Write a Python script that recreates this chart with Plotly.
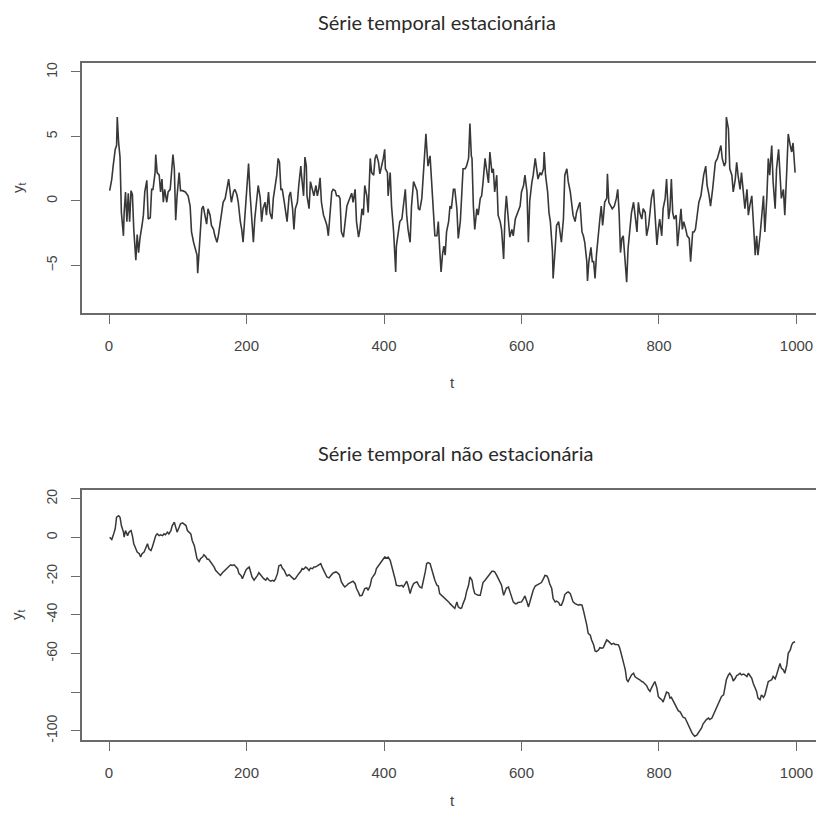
import plotly.graph_objects as go

# ---- Data: stationary series ----
t_stat = [1,4,6,9,11,12,14,15,16,18,21,22,24,26,28,30,32,34,36,39,41,43,45,48,50,52,55,57,60,62,64,67,68,70,73,75,77,79,81,84,86,89,91,93,95,97,99,102,104,107,111,115,118,120,123,125,128,129,131,133,135,137,140,142,144,147,149,152,154,157,159,161,164,166,169,171,174,176,178,181,183,186,188,191,193,195,198,200,203,205,208,210,212,215,217,220,222,224,227,229,232,234,237,239,241,244,246,248,250,252,255,257,259,262,264,267,269,271,274,276,279,280,283,285,287,288,291,293,296,298,301,303,305,307,309,312,314,317,319,321,324,326,329,331,334,336,
          338,341,343,346,348,351,353,355,358,360,363,365,368,370,372,375,377,380,382,385,387,389,392,394,397,399,401,402,405,406,409,411,414,416,417,418,421,423,426,428,431,433,435,438,440,443,445,448,450,452,455,457,459,461,462,464,467,469,472,474,477,479,481,483,485,487,489,491,494,496,498,501,503,506,508,511,513,515,518,520,523,525,527,528,530,532,535,537,540,542,544,547,549,552,554,557,559,561,564,566,569,571,574,576,578,581,583,586,588,591,593,595,598,600,603,605,608,610,612,615,617,620,622,624,627,629,632,633,635,638,640,642,645,646,649,651,654,656,658,661,663,666,668,671,673,675,678,680,683,685,
          688,690,692,695,696,698,701,703,705,707,709,712,714,716,718,719,721,724,725,727,730,732,735,738,740,742,744,746,748,751,753,755,758,760,763,765,768,770,772,775,777,780,782,785,787,789,792,794,797,799,801,804,806,809,811,814,816,818,820,822,825,827,830,832,834,836,839,841,844,846,849,851,853,856,858,861,863,865,868,870,873,875,878,880,882,885,887,890,892,895,897,898,901,903,906,908,911,913,915,918,920,923,925,928,930,932,935,937,940,942,944,947,949,952,954,957,959,961,964,966,969,971,974,976,978,981,983,986,988,991,993,995,998]
y_stat = [0.8,1.7,2.7,4.0,4.3,6.5,4.5,3.5,3.4,-0.9,-2.7,-0.9,0.7,-1.6,0.6,-1.6,0.8,0.5,-2.2,-4.6,-2.6,-4.0,-2.9,-1.9,-1.1,0.7,1.6,-1.4,-1.3,0.9,0.9,2.2,3.6,2.2,2.0,0.7,1.7,-0.1,0.9,-0.1,0.7,0.9,2.7,3.6,2.5,-1.5,0.4,2.2,0.8,0.8,0.7,0.4,-0.4,-2.4,-3.2,-3.6,-4.2,-5.6,-4.1,-2.7,-0.6,-0.4,-1.4,-1.8,-0.6,-1.1,-1.9,-2.2,-2.7,-3.2,-2.7,-1.9,-0.6,-0.1,0.2,0.7,1.7,0.8,-0.1,0.7,0.9,0.5,-0.1,-1.6,-2.2,-3.2,-0.9,1.2,2.9,0.7,-1.4,-3.2,-1.4,0.2,1.2,0.2,-1.6,-0.6,-0.1,-1.1,0.7,-0.9,-1.4,0.2,0.9,2.0,3.3,3.0,0.9,0.9,-0.1,-0.9,-1.6,0.4,0.7,-0.6,-2.2,-0.6,-0.1,1.2,2.7,2.0,0.4,3.4,2.7,0.4,-0.6,1.5,0.9,0.4,1.2,0.4,0.9,1.8,-0.1,-1.1,-1.4,-1.9,-2.7,-1.1,0.7,0.9,0.8,0.4,0.4,0.2,
          -2.4,-2.8,-1.9,-0.4,-0.1,0.4,0.6,-0.1,0.9,-1.6,-2.8,-2.2,-0.6,-1.1,1.2,0.4,-0.9,3.3,2.2,2.0,3.3,3.6,3.0,2.1,2.7,3.3,4.0,2.5,2.2,0.4,2.2,-0.4,-2.4,-4.2,-5.5,-3.5,-2.2,-1.6,-1.4,-0.6,0.9,-1.1,-2.2,-3.2,-0.4,1.5,1.2,0.8,-0.6,-0.7,0.2,2.2,4.0,5.2,4.3,2.7,3.5,1.4,-0.6,-2.7,-2.7,-1.6,-3.7,-5.5,-4.2,-3.5,-4.2,-2.4,-1.6,-0.4,-0.6,0.9,0.9,-0.6,-2.9,-1.6,0.4,2.5,2.5,2.7,3.3,6.0,3.5,3.3,-0.4,-2.2,-0.6,-1.1,0.2,0.4,1.4,3.3,2.5,1.4,3.8,2.2,2.5,0.7,2.0,-1.1,-1.6,-2.2,-4.5,-1.1,0.4,-1.6,-2.8,-2.2,-2.7,-1.4,-1.1,-0.9,-0.4,0.7,1.2,2.0,0.7,-3.2,0.0,1.4,2.0,3.3,2.5,1.7,2.2,2.0,2.5,3.8,2.0,0.7,-0.9,-1.6,-3.9,-6.0,-3.7,-1.9,-1.6,-2.4,-3.2,-1.4,2.0,2.5,1.5,0.7,-0.1,-1.1,-1.6,-0.9,-0.4,-0.1,
          -2.4,-2.7,-3.2,-4.7,-6.2,-4.7,-3.6,-4.7,-4.7,-6.0,-4.2,-2.2,-1.4,-0.4,-1.9,-1.4,-0.1,0.2,2.1,-0.1,-0.4,-0.6,-0.4,0.2,0.9,-0.9,-4.0,-2.9,-2.7,-4.7,-6.3,-3.7,-2.2,-0.9,-0.1,-1.1,-2.4,-0.1,-0.9,-1.4,-0.6,-0.9,-2.7,-1.9,-0.6,0.2,0.9,-0.9,-3.4,-2.2,-1.4,-2.7,-0.6,0.2,1.7,-1.4,-0.6,1.7,-0.9,-1.4,-1.1,-3.5,-1.9,-0.6,-2.2,-1.6,-2.2,-2.7,-2.9,-4.7,-2.4,-2.4,-2.2,-0.6,-0.1,0.4,1.2,2.0,2.7,1.2,0.4,-0.4,0.9,2.2,3.0,3.3,3.8,4.3,3.3,2.7,3.0,6.5,5.6,2.5,2.0,0.7,1.7,3.0,2.0,0.9,2.2,0.2,-0.6,0.9,-1.1,-0.4,0.4,-1.4,-4.2,-2.7,-4.2,-2.7,-1.4,0.4,-2.4,0.4,3.3,2.0,4.3,1.5,-0.6,2.5,4.0,1.7,0.2,0.9,-1.1,2.5,5.2,4.3,3.8,4.5,2.2]

# ---- Data: non-stationary series ----
t_walk = [1,4,6,9,11,14,16,18,21,22,24,27,29,32,34,36,39,41,44,46,48,51,53,56,58,61,63,65,68,70,73,75,78,80,82,85,87,90,92,95,97,99,102,104,107,109,112,114,116,119,121,124,126,128,131,133,136,138,141,143,145,148,150,153,155,158,160,162,165,167,170,172,175,177,179,182,184,187,189,192,194,196,199,201,204,206,208,211,213,216,218,220,223,225,228,230,233,235,238,240,242,245,247,250,252,255,257,259,262,264,267,269,271,274,276,279,281,283,286,288,291,293,296,298,300,303,305,308,310,313,315,317,320,322,325,327,330,332,335,336,
          338,341,343,346,348,351,353,355,358,360,363,365,368,370,372,375,377,380,382,385,387,389,392,394,397,399,401,404,406,409,411,414,416,418,421,423,426,428,431,433,435,438,440,443,445,448,450,452,455,457,460,462,464,467,469,472,474,477,479,481,484,486,489,491,494,496,498,501,503,506,508,511,513,515,518,520,523,525,528,530,532,535,537,540,542,544,547,549,552,554,557,559,561,564,566,569,571,574,576,578,581,583,586,588,591,593,595,598,600,603,605,608,610,612,615,617,620,622,624,627,629,632,634,637,639,641,644,646,649,651,654,656,658,661,663,666,668,671,673,675,678,680,683,685,
          688,690,692,695,697,700,702,705,707,709,712,714,717,719,721,724,726,729,731,734,736,738,741,743,746,748,751,753,755,758,760,763,765,768,770,772,775,777,780,782,785,787,789,792,794,797,799,801,804,806,809,811,814,816,818,821,823,826,828,831,833,835,838,840,843,845,848,850,852,855,857,860,862,864,867,869,872,874,877,879,881,884,886,889,891,894,896,898,901,903,906,908,911,913,915,918,920,923,925,928,930,932,935,937,940,942,944,947,949,952,954,957,959,961,964,966,969,971,974,976,978,981,983,986,988,991,993,995,998]
y_walk = [0.2,-1.0,1.0,4.5,10.5,11.3,10.5,6.2,2.8,0.2,3.6,1.0,2.8,3.6,1.0,-3.2,-5.8,-7.5,-8.4,-10.1,-8.4,-7.5,-5.8,-3.2,-5.8,-6.7,-4.9,-2.4,1.0,1.9,1.0,1.4,1.0,1.9,1.4,2.8,1.9,3.6,6.2,7.9,5.3,2.8,5.3,7.1,7.6,7.1,6.2,3.6,3.1,1.9,-1.5,-4.1,-7.5,-11.0,-12.4,-11.0,-10.1,-8.9,-10.1,-11.3,-11.3,-12.7,-14.1,-15.3,-17.0,-18.2,-19.2,-19.6,-18.2,-17.5,-16.1,-15.3,-14.7,-14.1,-14.4,-14.1,-14.7,-16.1,-18.7,-19.6,-21.3,-19.2,-17.0,-16.1,-15.3,-17.8,-20.4,-22.1,-21.3,-19.6,-18.2,-19.2,-20.4,-21.3,-22.1,-20.9,-22.1,-22.6,-22.1,-22.6,-21.6,-18.7,-14.7,-14.1,-15.8,-17.0,-18.7,-19.9,-19.2,-19.9,-20.9,-21.6,-21.3,-19.6,-18.7,-17.5,-16.1,-16.5,-15.3,-15.8,-17.0,-15.8,-16.1,-15.3,-15.3,-14.7,-14.1,-13.5,-15.3,-17.5,-19.2,-20.4,-20.9,-19.9,-18.7,-18.2,-17.8,-18.2,-19.2,-20.4,
          -23.0,-24.7,-25.6,-24.7,-23.9,-23.3,-23.0,-22.6,-23.9,-26.4,-28.5,-30.2,-29.9,-28.5,-26.4,-26.1,-27.3,-24.7,-21.3,-19.6,-18.7,-16.1,-14.7,-13.5,-11.8,-11.0,-10.1,-10.6,-10.1,-11.8,-14.4,-17.8,-21.3,-24.7,-25.1,-25.1,-24.7,-25.6,-23.9,-22.6,-24.7,-29.0,-26.4,-23.9,-23.3,-23.0,-24.4,-25.6,-26.1,-23.0,-17.8,-13.5,-13.0,-13.5,-16.1,-18.7,-22.1,-24.7,-25.1,-29.0,-29.9,-30.7,-31.6,-32.4,-33.3,-34.2,-35.0,-35.9,-36.7,-33.3,-35.9,-36.7,-36.4,-34.2,-31.6,-28.1,-24.7,-20.4,-22.1,-26.4,-29.0,-29.5,-29.9,-29.9,-27.3,-23.3,-22.1,-21.3,-19.6,-18.7,-17.5,-17.5,-17.8,-19.6,-21.3,-23.3,-24.7,-29.9,-28.1,-26.1,-25.6,-28.1,-30.7,-33.3,-34.2,-34.2,-33.6,-33.6,-33.3,-31.6,-30.2,-33.3,-35.9,-33.6,-29.5,-27.3,-25.1,-24.7,-24.4,-23.9,-23.3,-21.3,-19.6,-19.9,-21.3,-23.9,-26.4,-31.6,-33.3,-32.9,-33.6,-35.0,-35.0,-32.4,-29.5,-28.5,-28.1,-29.0,-30.7,-33.3,-34.2,-34.7,-35.0,-34.7,
          -35.0,-37.6,-40.2,-45.3,-49.6,-50.5,-53.0,-55.6,-58.7,-59.0,-58.2,-57.0,-57.3,-57.0,-55.3,-53.0,-53.5,-54.8,-55.3,-54.8,-55.3,-55.3,-55.6,-57.3,-62.5,-64.2,-68.5,-73.6,-74.5,-71.9,-71.1,-70.2,-71.9,-72.8,-73.1,-73.6,-74.5,-74.8,-75.9,-76.6,-78.8,-79.6,-77.9,-75.4,-74.5,-77.9,-82.2,-83.1,-83.9,-85.1,-82.2,-80.0,-80.5,-83.1,-82.7,-84.8,-86.5,-88.2,-89.6,-90.3,-91.7,-93.0,-93.4,-95.1,-97.2,-98.9,-101.1,-102.0,-102.8,-102.3,-101.1,-99.9,-98.5,-96.5,-95.1,-94.2,-93.4,-94.2,-93.4,-91.7,-89.9,-87.4,-85.7,-83.1,-82.2,-81.4,-77.1,-73.6,-71.1,-70.2,-71.9,-74.2,-72.8,-71.4,-71.1,-70.2,-71.1,-70.7,-71.1,-71.9,-70.2,-71.1,-72.8,-75.4,-77.9,-79.6,-83.1,-83.9,-81.4,-82.7,-81.4,-77.9,-74.5,-74.2,-73.6,-71.9,-73.1,-71.1,-67.6,-65.1,-67.6,-68.5,-70.2,-65.9,-59.9,-58.2,-55.6,-54.4,-53.9]

x_ticks = [0, 200, 400, 600, 800, 1000]
y1_ticks = [-5, 0, 5, 10]
y2_ticks = [-100, -80, -60, -40, -20, 0, 20]
y2_labels = ["-100", " ", "-60", "-40", "-20", "0", "20"]

titles = ["Série temporal estacionária", "Série temporal não estacionária"]

W, H = 816, 819
line_col = "#383838"
axis_col = "#6a6a6a"
tick_font = dict(family="Liberation Sans Narrow, Liberation Sans, Arial", size=15, color="#444444")
ytick_font = dict(family="Liberation Sans, Arial", size=14, color="#444444")

def py(px):
    return 1 - px / H

fig = go.Figure()
fig.add_trace(go.Scatter(x=t_stat, y=y_stat, mode="lines", line=dict(color=line_col, width=1.6),
                         xaxis="x", yaxis="y", showlegend=False, hoverinfo="skip"))
fig.add_trace(go.Scatter(x=t_walk, y=y_walk, mode="lines", line=dict(color=line_col, width=1.5),
                         xaxis="x2", yaxis="y2", showlegend=False, hoverinfo="skip"))

xrange = [-39.3, 1028.4]
xcommon = dict(range=xrange, tickvals=x_ticks, ticks="outside", ticklen=9, tickwidth=1.4,
               tickcolor=axis_col, showline=True, linecolor=axis_col, linewidth=1.6, mirror=True,
               showgrid=False, zeroline=False, tickfont=tick_font, ticklabelstandoff=9)
ycommon = dict(ticks="outside", ticklen=9, tickwidth=1.4, tickcolor=axis_col, showline=True,
               linecolor=axis_col, linewidth=1.6, mirror=False, showgrid=False, zeroline=False,
               tickfont=ytick_font, tickangle=-90, ticklabelstandoff=9)

fig.update_layout(
    width=W, height=H, margin=dict(l=0, r=0, t=0, b=0),
    paper_bgcolor="white", plot_bgcolor="white",
    xaxis=dict(domain=[82 / W, 1], anchor="y", **xcommon),
    yaxis=dict(domain=[py(314), py(62)], anchor="x", range=[-8.72, 10.72], tickvals=y1_ticks, **ycommon),
    xaxis2=dict(domain=[82 / W, 1], anchor="y2", **xcommon),
    yaxis2=dict(domain=[py(742.7), py(491)], anchor="x2", range=[-104.8, 24.8], tickvals=y2_ticks,
                ticktext=y2_labels, **ycommon),
)

title_font = dict(family="Lato, Open Sans, sans-serif", size=20, color="#2a2a2a")
ann = [
    dict(text=titles[0], x=437 / W, y=py(21), font=title_font),
    dict(text=titles[1], x=455 / W, y=py(454), font=title_font),
    dict(text="t", x=452 / W, y=py(383), font=dict(family="Liberation Sans Narrow, Liberation Sans", size=15, color="#444444")),
    dict(text="t", x=452 / W, y=py(803), font=dict(family="Liberation Sans Narrow, Liberation Sans", size=15, color="#444444")),
    dict(text="y<sub>t</sub>", x=18 / W, y=py(188), textangle=-90, font=dict(family="Liberation Sans", size=15, color="#444444")),
    dict(text="y<sub>t</sub>", x=18 / W, y=py(617), textangle=-90, font=dict(family="Liberation Sans", size=15, color="#444444")),
]
for a in ann:
    a.update(xref="paper", yref="paper", showarrow=False, xanchor="center", yanchor="middle")
fig.update_layout(annotations=ann)

fig.write_html("out.html")
